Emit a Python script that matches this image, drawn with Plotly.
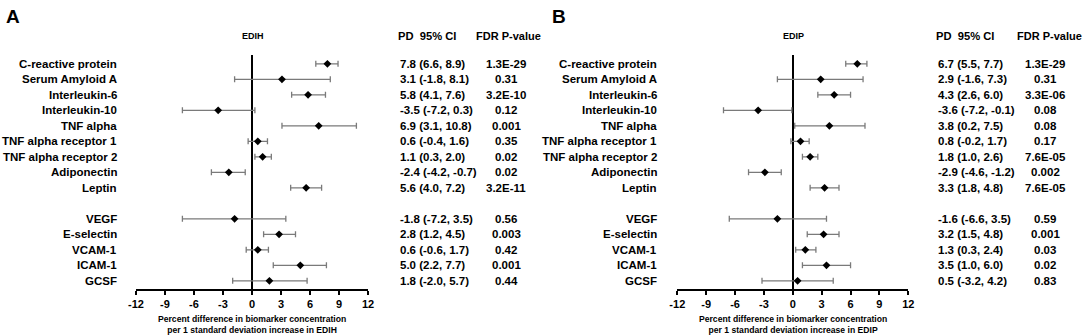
import plotly.graph_objects as go

# ---------------- data ----------------
group1 = ["C-reactive protein", "Serum Amyloid A", "Interleukin-6", "Interleukin-10",
          "TNF alpha", "TNF alpha receptor 1", "TNF alpha receptor 2", "Adiponectin", "Leptin"]
group2 = ["VEGF", "E-selectin", "VCAM-1", "ICAM-1", "GCSF"]
categories = group1 + group2

edih_pd = [7.8, 3.1, 5.8, -3.5, 6.9, 0.6, 1.1, -2.4, 5.6, -1.8, 2.8, 0.6, 5.0, 1.8]
edih_lo = [6.6, -1.8, 4.1, -7.2, 3.1, -0.4, 0.3, -4.2, 4.0, -7.2, 1.2, -0.6, 2.2, -2.0]
edih_hi = [8.9, 8.1, 7.6, 0.3, 10.8, 1.6, 2.0, -0.7, 7.2, 3.5, 4.5, 1.7, 7.7, 5.7]
edih_p = ["1.3E-29", "0.31", "3.2E-10", "0.12", "0.001", "0.35", "0.02", "0.02", "3.2E-11",
          "0.56", "0.003", "0.42", "0.001", "0.44"]

edip_pd = [6.7, 2.9, 4.3, -3.6, 3.8, 0.8, 1.8, -2.9, 3.3, -1.6, 3.2, 1.3, 3.5, 0.5]
edip_lo = [5.5, -1.6, 2.6, -7.2, 0.2, -0.2, 1.0, -4.6, 1.8, -6.6, 1.5, 0.3, 1.0, -3.2]
edip_hi = [7.7, 7.3, 6.0, -0.1, 7.5, 1.7, 2.6, -1.2, 4.8, 3.5, 4.8, 2.4, 6.0, 4.2]
edip_p = ["1.3E-29", "0.31", "3.3E-06", "0.08", "0.08", "0.17", "7.6E-05", "0.002", "7.6E-05",
          "0.59", "0.001", "0.03", "0.02", "0.83"]

x_ticks = [-12, -9, -6, -3, 0, 3, 6, 9, 12]

# ---------------- layout helpers ----------------
W, H = 1084, 335
FONT = "Liberation Sans, Arial, sans-serif"


def px(x):
    return x / W


def py(y):
    return 1 - y / H


# row positions: a blank row separates the two groups
rows = list(range(len(group1))) + [len(group1) + 1 + i for i in range(len(group2))]

panels = [
    dict(name="EDIH", letter="A", pd=edih_pd, lo=edih_lo, hi=edih_hi, p=edih_p,
         xa="x", dom=(136, 368), label_r=119, pd_x=398, p_x=506, fdr_x=475, letter_x=4),
    dict(name="EDIP", letter="B", pd=edip_pd, lo=edip_lo, hi=edip_hi, p=edip_p,
         xa="x2", dom=(677.3, 908.3), label_r=659, pd_x=936, p_x=1045, fdr_x=1016, letter_x=550),
]

fig = go.Figure()
annotations = []

for pan in panels:
    fig.add_trace(go.Scatter(
        x=pan["pd"], y=rows, mode="markers",
        xaxis=pan["xa"], yaxis="y",
        marker=dict(symbol="diamond", size=6, color="black"),
        error_x=dict(type="data", symmetric=False,
                     array=[h - v for h, v in zip(pan["hi"], pan["pd"])],
                     arrayminus=[v - l for v, l in zip(pan["pd"], pan["lo"])],
                     color="#7a7a7a", thickness=1.3, width=3),
        showlegend=False, hoverinfo="skip",
    ))
    # category labels
    for cat, r in zip(categories, rows):
        annotations.append(dict(text=f"<b>{cat}</b>", x=px(pan["label_r"]), xref="paper",
                                xanchor="right", y=r, yref="y", yanchor="middle",
                                showarrow=False, font=dict(size=11.5, color="black", family=FONT)))
    # PD (95% CI) text and p-values
    for v, l, h, pv, r in zip(pan["pd"], pan["lo"], pan["hi"], pan["p"], rows):
        annotations.append(dict(text=f"<b>{v:.1f} ({l:.1f}, {h:.1f})</b>", x=px(pan["pd_x"]),
                                xref="paper", xanchor="left", y=r, yref="y", yanchor="middle",
                                showarrow=False, font=dict(size=11.5, color="black", family=FONT)))
        annotations.append(dict(text=f"<b>{pv}</b>", x=px(pan["p_x"]), xref="paper",
                                xanchor="center", y=r, yref="y", yanchor="middle",
                                showarrow=False, font=dict(size=11.5, color="black", family=FONT)))
    # headers
    annotations.append(dict(text="<b>PD&nbsp;&nbsp;95% CI</b>", x=px(pan["pd_x"] - 2), xref="paper",
                            xanchor="left", y=py(36), yref="paper", yanchor="middle",
                            showarrow=False, font=dict(size=11.2, color="black", family=FONT)))
    annotations.append(dict(text="<b>FDR P-value</b>", x=px(pan["fdr_x"]), xref="paper",
                            xanchor="left", y=py(36), yref="paper", yanchor="middle",
                            showarrow=False, borderpad=0,
                            font=dict(size=11, color="black", family=FONT)))
    cx = (pan["dom"][0] + pan["dom"][1]) / 2
    annotations.append(dict(text=f"<b>{pan['name']}</b>", x=px(cx + 1), xref="paper",
                            xanchor="center", y=py(36), yref="paper", yanchor="middle",
                            showarrow=False, font=dict(size=9, color="black", family=FONT)))
    annotations.append(dict(text=f"<b>{pan['letter']}</b>", x=px(pan["letter_x"]), xref="paper",
                            xanchor="left", y=py(17), yref="paper", yanchor="middle",
                            showarrow=False, font=dict(size=19, color="black", family=FONT)))
    # axis title (two lines)
    annotations.append(dict(
        text=f"<b>Percent difference in biomarker concentration<br>per 1 standard deviation increase in {pan['name']}</b>",
        x=px(cx), xref="paper", xanchor="center", y=py(324), yref="paper", yanchor="middle",
        showarrow=False, align="center", font=dict(size=8.6, color="black", family=FONT)))

xaxis_common = dict(range=[-12, 12], tickvals=x_ticks, ticktext=[str(t) for t in x_ticks],
                    showgrid=False, zeroline=True, zerolinecolor="black", zerolinewidth=1.6,
                    showline=True, linecolor="black", linewidth=1.6,
                    ticks="outside", ticklen=4, tickwidth=1.6, tickcolor="black",
                    tickfont=dict(size=11, color="black", family=FONT, weight="bold"),
                    anchor="y", automargin=False, fixedrange=True)

fig.update_layout(
    width=W, height=H,
    margin=dict(l=0, r=0, t=0, b=0),
    paper_bgcolor="white", plot_bgcolor="rgba(0,0,0,0)",
    font=dict(family=FONT, color="black"),
    xaxis=dict(domain=[px(panels[0]["dom"][0]), px(panels[0]["dom"][1])], **xaxis_common),
    xaxis2=dict(domain=[px(panels[1]["dom"][0]), px(panels[1]["dom"][1])], **xaxis_common),
    yaxis=dict(domain=[py(289), py(55)], range=[14.53, -0.57], visible=False,
               showgrid=False, zeroline=False, automargin=False, fixedrange=True),
    annotations=annotations,
    showlegend=False,
)

# remove the browser's default 8px page margin so the figure fills the window exactly
fig.write_html("out.html", config={"displayModeBar": False},
               post_script="document.body.style.margin='0px';document.body.style.overflow='hidden';")
